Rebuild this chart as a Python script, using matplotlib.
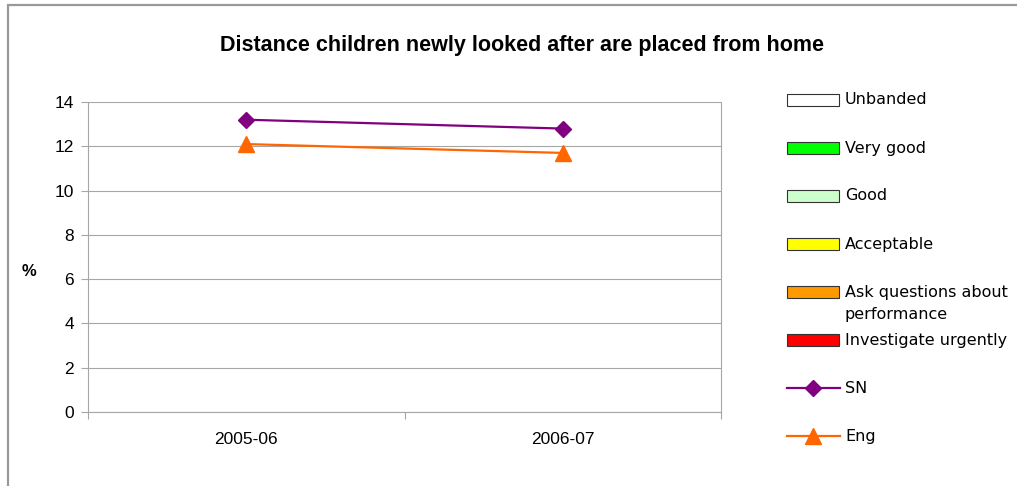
import matplotlib
matplotlib.use('Agg')
import matplotlib.pyplot as plt
from matplotlib.patches import Rectangle
from matplotlib.lines import Line2D

# data
years = ['2005-06', '2006-07']
sn_values = [13.2, 12.8]
eng_values = [12.1, 11.7]

band_names = ['Unbanded', 'Very good', 'Good', 'Acceptable',
              'Ask questions about\nperformance', 'Investigate urgently']
band_colors = ['#FFFFFF', '#00FF00', '#CCFFCC', '#FFFF00', '#FF9900', '#FF0000']

sn_color = '#800080'
eng_color = '#FF6600'
grid_color = '#A6A6A6'
legend_size = 11.5

W, H = 1017, 486
fig = plt.figure(figsize=(W / 100, H / 100), dpi=100)
plt.rcParams['font.family'] = ['Liberation Sans', 'DejaVu Sans']

# outer chart frame (only top and left edges show)
fig.patches.append(Rectangle((8 / W, -0.1), 1.2, 1 - 5 / H + 0.1,
                             transform=fig.transFigure, fill=False,
                             edgecolor='#999999', linewidth=1.6))

ax = fig.add_axes([88 / W, 74 / H, 633 / W, 310 / H])
x = list(range(len(years)))
ax.plot(x, sn_values, color=sn_color, linewidth=1.6, marker='D',
        markersize=8, zorder=3)
ax.plot(x, eng_values, color=eng_color, linewidth=1.6, marker='^',
        markersize=11, zorder=3)

ax.set_xlim(-0.5, len(years) - 0.5)
ax.set_ylim(0, 14)
ax.set_yticks(range(0, 15, 2))
ax.yaxis.grid(True, color=grid_color, linewidth=0.8)
ax.set_axisbelow(True)

ax.set_xticks([i - 0.5 for i in range(len(years) + 1)])
ax.set_xticklabels([])
ax.set_xticks(x, minor=True)
ax.set_xticklabels(years, minor=True)
ax.tick_params(axis='x', which='major', length=5, color=grid_color,
               direction='out')
ax.tick_params(axis='x', which='minor', length=0, pad=14.5, labelsize=12.5)
ax.tick_params(axis='y', length=5, color=grid_color, pad=5, labelsize=12.5)

for side in ['left', 'right', 'bottom']:
    ax.spines[side].set_color(grid_color)
    ax.spines[side].set_linewidth(0.8)
ax.spines['top'].set_visible(False)

fig.text(29 / W, 1 - 272 / H, '%', fontsize=12, fontweight='bold',
         ha='center', va='center')
fig.text(522 / W, 1 - 45 / H,
         'Distance children newly looked after are placed from home',
         fontsize=15.5, fontweight='bold', ha='center', va='center')

# legend, drawn row by row
row_y = [100 + 48 * i for i in range(len(band_names) + 2)]
for name, col, yy in zip(band_names, band_colors, row_y):
    fig.patches.append(Rectangle((787 / W, 1 - (yy + 6) / H), 52 / W, 12 / H,
                                 transform=fig.transFigure, facecolor=col,
                                 edgecolor='#333333', linewidth=0.8))
    fig.text(845 / W, 1 - yy / H, name.split('\n')[0], fontsize=legend_size,
             family='DejaVu Sans', va='center', ha='left')
    if '\n' in name:
        fig.text(845 / W, 1 - (yy + 23) / H, name.split('\n')[1],
                 fontsize=legend_size, family='DejaVu Sans', va='center',
                 ha='left')

for label, col, mk, ms, yy in [('SN', sn_color, 'D', 8, row_y[6]),
                               ('Eng', eng_color, '^', 11, row_y[7])]:
    fig.lines.append(Line2D([787 / W, 840 / W], [1 - yy / H, 1 - yy / H],
                            transform=fig.transFigure, color=col,
                            linewidth=1.6))
    fig.lines.append(Line2D([813 / W], [1 - yy / H], transform=fig.transFigure,
                            color=col, marker=mk, markersize=ms))
    fig.text(845 / W, 1 - yy / H, label, fontsize=legend_size,
             family='DejaVu Sans', va='center', ha='left')

fig.savefig('out.png', dpi=100)
